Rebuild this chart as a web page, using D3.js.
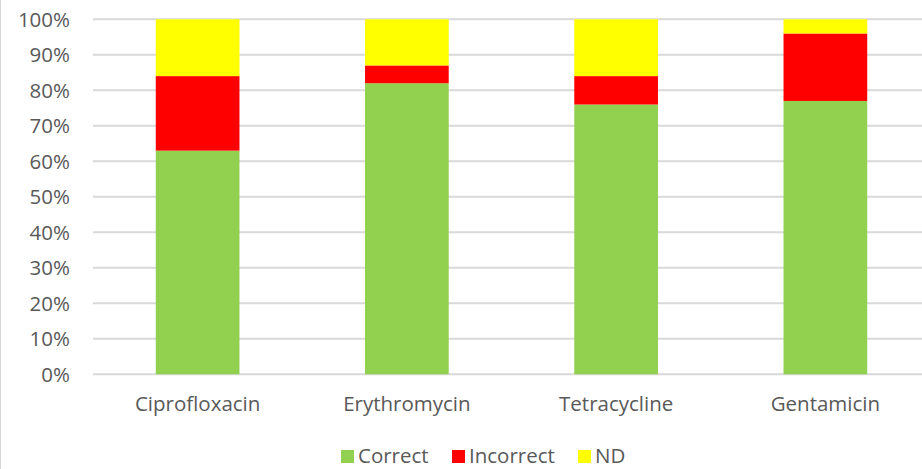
<!DOCTYPE html>
<html>
<head>
<meta charset="utf-8">
<script src="https://cdn.jsdelivr.net/npm/d3@7"></script>
<style>
  html, body { margin: 0; padding: 0; background: #fff; }
  svg { display: block; font-family: "Open Sans", Lato, sans-serif; }
</style>
</head>
<body>
<svg id="chart" width="922" height="469"></svg>
<script>
// Antibiotic categories and stacked percentages
const categories = ["Ciprofloxacin", "Erythromycin", "Tetracycline", "Gentamicin"];
const correct   = [63, 82, 76, 77];
const incorrect = [21, 5, 8, 19];
const nd        = [16, 13, 16, 4];
const seriesNames = ["Correct", "Incorrect", "ND"];
const seriesColors = ["#92D050", "#FF0000", "#FFFF00"];
const yTicks = [0, 10, 20, 30, 40, 50, 60, 70, 80, 90, 100];

const FONT = "\"Open Sans\", sans-serif";
const FS = "20.5px";

const svg = d3.select("#chart");
const W = 922, H = 469;
const plot = { left: 93, right: 930, top: 19.3, bottom: 374.3 };

// frame edge on the left
svg.append("line")
  .attr("x1", 0.5).attr("x2", 0.5).attr("y1", 0).attr("y2", H)
  .attr("stroke", "#d9d9d9").attr("stroke-width", 1);

const x = d3.scaleBand().domain(categories).range([plot.left, plot.right]).paddingInner(0.6).paddingOuter(0.3);
const y = d3.scaleLinear().domain([0, 100]).range([plot.bottom, plot.top]);

// gridlines
svg.append("g").selectAll("line").data(yTicks).join("line")
  .attr("x1", plot.left).attr("x2", plot.right)
  .attr("y1", d => y(d)).attr("y2", d => y(d))
  .attr("stroke", "#d9d9d9").attr("stroke-width", 2);

// y axis labels
const yAxis = d3.axisLeft(y).tickValues(yTicks).tickFormat(d => d + "%").tickSize(0).tickPadding(0);
const yg = svg.append("g").attr("transform", `translate(70,0)`).call(yAxis);
yg.select(".domain").remove();
yg.selectAll("text").attr("fill", "#595959").style("font-size", FS).attr("dy", "0.35em")
  .style("font-family", FONT);

// stacked data
const rows = categories.map((c, i) => ({ cat: c, Correct: correct[i], Incorrect: incorrect[i], ND: nd[i] }));
const stack = d3.stack().keys(seriesNames)(rows);

svg.append("g").selectAll("g").data(stack).join("g")
  .attr("fill", (d, i) => seriesColors[i])
  .selectAll("rect").data(d => d).join("rect")
  .attr("x", d => x(d.data.cat))
  .attr("width", x.bandwidth())
  .attr("y", d => y(d[1]))
  .attr("height", d => y(d[0]) - y(d[1]));

// category axis
const xAxis = d3.axisBottom(x).tickSize(0).tickPadding(0);
const xg = svg.append("g").attr("transform", `translate(0,${plot.bottom})`).call(xAxis);
xg.select(".domain").remove();
xg.selectAll("text").attr("fill", "#595959").style("font-size", FS)
  .attr("y", 36.7).attr("dy", 0).style("font-family", FONT);

// legend
const legendX = [341, 452, 578];
const lg = svg.append("g").selectAll("g").data(seriesNames).join("g")
  .attr("transform", (d, i) => `translate(${legendX[i]},450)`);
lg.append("rect").attr("width", 13).attr("height", 13).attr("fill", (d, i) => seriesColors[i]);
lg.append("text").attr("x", 17).attr("y", 13.3).text(d => d)
  .attr("fill", "#595959").style("font-size", FS).style("font-family", FONT);
</script>
</body>
</html>
